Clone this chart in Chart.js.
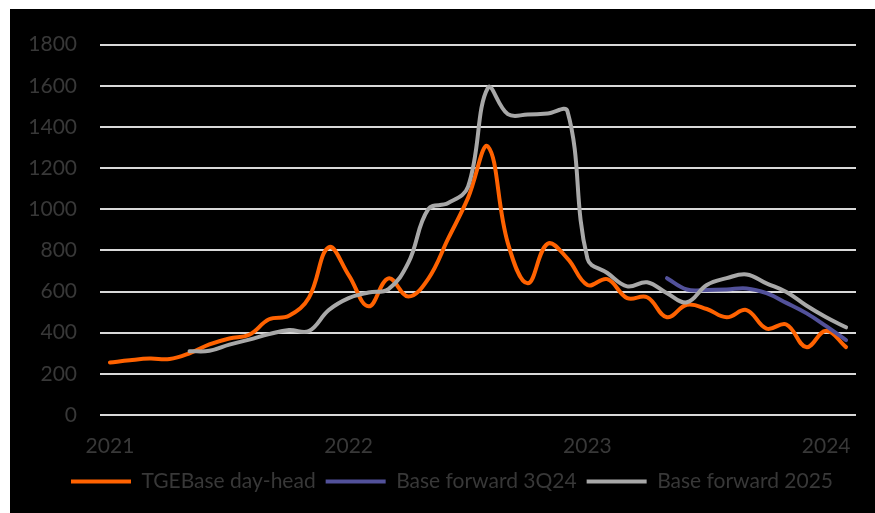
<!DOCTYPE html>
<html>
<head>
<meta charset="utf-8">
<script src="https://cdn.jsdelivr.net/npm/chart.js@4/dist/chart.umd.min.js"></script>
<style>
  html, body { margin: 0; padding: 0; background: #ffffff; }
  #panel { position: absolute; left: 10px; top: 9px; width: 865px; height: 504px; background: #000000; }
  canvas { display: block; }
</style>
</head>
<body>
<div id="panel"><canvas id="chart" width="865" height="504"></canvas></div>
<script>
// Monthly observations, January 2021 to February 2024
const months = [
  'Jan 2021','Feb 2021','Mar 2021','Apr 2021','May 2021','Jun 2021','Jul 2021','Aug 2021','Sep 2021','Oct 2021','Nov 2021','Dec 2021',
  'Jan 2022','Feb 2022','Mar 2022','Apr 2022','May 2022','Jun 2022','Jul 2022','Aug 2022','Sep 2022','Oct 2022','Nov 2022','Dec 2022',
  'Jan 2023','Feb 2023','Mar 2023','Apr 2023','May 2023','Jun 2023','Jul 2023','Aug 2023','Sep 2023','Oct 2023','Nov 2023','Dec 2023',
  'Jan 2024','Feb 2024'
];

// Year labels shown under each January
const yearTicks = { 0: '2021', 12: '2022', 24: '2023', 36: '2024' };

// TGE base day-ahead price (PLN/MWh)
const tgeBaseDayAhead = [
  255, 266, 274, 272, 300, 343, 372, 390, 465, 482, 570, 815,
  680, 528, 664, 576, 662, 857, 1055, 1305, 835, 640, 832, 760,
  632, 660, 568, 572, 475, 536, 515, 475, 510, 420, 440, 330,
  410, 330
];

// Base forward contract for 3Q24
const baseForward3Q24 = [
  null, null, null, null, null, null, null, null, null, null, null, null,
  null, null, null, null, null, null, null, null, null, null, null, null,
  null, null, null, null, 665, 610, 608, 610, 615, 592, 545, 495,
  432, 364
];

// Base forward contract for calendar 2025
const baseForward2025 = [
  null, null, null, null, 310, 312, 342, 366, 393, 413, 408, 510,
  568, 595, 612, 740, 1000, 1030, 1110, 1590, 1462, 1460, 1465, 1475,
  760, 690, 625, 645, 592, 548, 632, 665, 683, 640, 598, 532,
  475, 426
];

const seriesNames = ['TGEBase day-head', 'Base forward 3Q24', 'Base forward 2025'];
const seriesColors = ['#ff6200', '#52519a', '#a8a8a8'];

const yTicks = { min: 0, max: 1800, step: 200 };

const textColor = '#383838';
const fontFamily = 'Lato, "Open Sans", sans-serif';

function lineDataset(label, data, color, order) {
  return {
    label: label,
    data: data,
    borderColor: color,
    backgroundColor: color,
    borderWidth: 4,
    borderCapStyle: 'round',
    borderJoinStyle: 'round',
    pointRadius: 0,
    pointHoverRadius: 0,
    tension: 0.4,
    fill: false,
    order: order
  };
}

// Centre the legend row a little right of the canvas middle
const legendShift = {
  id: 'legendShift',
  afterLayout(chart) {
    if (chart.legend) { chart.legend.left = 38; }
  }
};

new Chart(document.getElementById('chart'), {
  type: 'line',
  data: {
    labels: months,
    datasets: [
      lineDataset(seriesNames[0], tgeBaseDayAhead, seriesColors[0], 3),
      lineDataset(seriesNames[1], baseForward3Q24, seriesColors[1], 2),
      lineDataset(seriesNames[2], baseForward2025, seriesColors[2], 1)
    ]
  },
  plugins: [legendShift],
  options: {
    responsive: false,
    animation: false,
    devicePixelRatio: 1,
    layout: { padding: { top: 32, right: 19, left: 0, bottom: 11 } },
    plugins: {
      tooltip: { enabled: false },
      legend: {
        position: 'bottom',
        labels: {
          usePointStyle: true,
          pointStyle: 'line',
          pointStyleWidth: 60,
          boxHeight: 4,
          padding: 10,
          color: textColor,
          font: { family: fontFamily, size: 21 },
          sort: (a, b) => a.datasetIndex - b.datasetIndex
        }
      }
    },
    scales: {
      x: {
        type: 'category',
        offset: true,
        grid: { display: false, drawTicks: false },
        border: { display: false },
        ticks: {
          autoSkip: false,
          maxRotation: 0,
          padding: 19,
          color: textColor,
          font: { family: fontFamily, size: 21 },
          callback: (value, index) => yearTicks[index] || ''
        },
        afterFit: (scale) => { scale.height = 46; }
      },
      y: {
        min: yTicks.min,
        max: yTicks.max,
        grid: { color: '#d9d9d9', lineWidth: 2, drawTicks: false },
        border: { display: false },
        ticks: {
          stepSize: yTicks.step,
          padding: 23,
          color: textColor,
          font: { family: fontFamily, size: 21 },
          callback: (value) => String(value)
        },
        afterFit: (scale) => { scale.width = 90; }
      }
    }
  }
});
</script>
</body>
</html>
